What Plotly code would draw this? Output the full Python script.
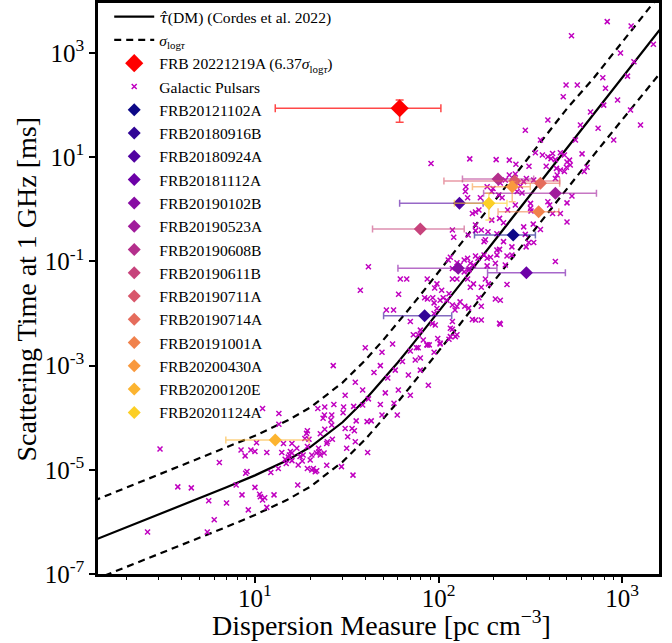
import plotly.graph_objects as go
from plotly.colors import sample_colorscale, unlabel_rgb

# ---------------- model curve ----------------
model_dm = [1, 2, 3, 5, 7, 10, 15, 20, 30, 40, 50, 60, 70, 80, 100, 120, 150,
            200, 250, 300, 400, 500, 700, 1000, 1300, 1600]
model_tau = [2.98e-7, 7.87e-7, 1.39e-6, 2.85e-6, 4.61e-6, 7.82e-6, 1.53e-5, 2.73e-5,
             8.18e-5, 2.23e-4, 5.39e-4, 1.15e-3, 2.24e-3, 4.01e-3, 1.08e-2, 2.43e-2,
             6.59e-2, 0.240, 0.655, 1.49, 5.42, 14.8, 67.3, 334, 1090, 2780]
model_tau_hi = [1.71e-6, 4.53e-6, 8.0e-6, 1.64e-5, 2.65e-5, 4.50e-5, 8.80e-5, 1.57e-4,
                4.71e-4, 1.28e-3, 3.10e-3, 6.62e-3, 1.29e-2, 2.31e-2, 6.21e-2, 0.140,
                0.379, 1.38, 3.77, 8.57, 31.2, 85.2, 330, 1600, 5000, 13000]
model_tau_lo = [5.18e-8, 1.37e-7, 2.42e-7, 4.95e-7, 8.01e-7, 1.36e-6, 2.66e-6, 4.74e-6,
                1.42e-5, 3.88e-5, 9.37e-5, 2.0e-4, 3.89e-4, 6.97e-4, 1.88e-3, 4.22e-3,
                1.15e-2, 4.17e-2, 0.114, 0.259, 0.942, 2.57, 11.0, 52.0, 165, 400]

# ---------------- Galactic pulsars ----------------
psr_dm = [
    # low DM
    11.0, 13.5, 13.5, 26.9, 24.0, 22.0, 30.4, 30.2, 34.5, 38.6,
    48.2, 57.2, 49.2, 59.6, 23.9, 26.2, 23.5, 25.9, 26.2, 24.0,
    31.0, 33.8, 34.8, 40.8, 43.0, 35.6, 32.0, 35.2, 26.4, 24.8,
    24.6, 22.7, 22.2, 22.4, 21.6, 22.7, 23.8, 20.4, 19.3, 19.1,
    18.7, 19.3, 19.7, 16.9, 15.6, 15.9, 14.0, 15.4, 15.2, 15.9,
    14.6, 14.8, 13.4, 12.2, 11.6, 10.0, 9.5, 8.84, 8.4, 10.2,
    14.3, 15.9, 17.6, 18.1, 17.2, 18.3, 20.0, 20.4, 21.3, 21.7,
    20.8, 19.3, 24.6, 29.6, 31.6, 41.1, 34.2, 17.1, 10.0, 10.6,
    10.7, 11.0, 11.3, 12.7, 8.5, 9.2, 11.6, 7.9, 9.05, 8.9,
    6.4, 5.6, 7.0, 3.04, 2.6, 5.5, 3.8, 4.5, 6.0,
    # intermediate DM
    44.5, 48.2, 52.9, 58.1, 63.6, 68.5, 74.7, 79.6, 51.3, 60.4,
    38.6, 35.2, 31.0, 41.5, 70.2, 88, 26.7, 49.2, 70.2, 75.8,
    86.5, 79.6, 94.6, 99, 102, 119, 126, 114, 217,
    # high DM
    91.0, 148, 206, 243, 264, 311, 337, 368, 394, 410,
    418, 433, 461, 485, 501, 517, 605, 522, 497, 386,
    439, 461, 485, 644, 622, 443, 433, 330, 301, 291,
    279, 268, 262, 243, 231, 217, 198, 184, 141, 140,
    213, 222, 195, 285, 394, 403, 418, 461, 501, 533,
    317, 317, 319, 262, 238, 166, 153, 159, 144, 169,
    226, 215, 195, 159, 171, 186, 208, 297, 328, 359,
    291, 501, 310, 330, 300, 251, 226, 180, 177, 159,
    145, 121, 119, 208, 215, 208, 192, 184, 177, 159,
    164, 236, 251, 231, 204, 144, 138, 149, 147, 155,
    184, 116, 113, 119, 131, 126, 433, 41.5, 37.5, 61.9,
    67.1, 86.8, 95.3, 104, 106, 114, 111, 102, 98, 93,
    84, 87, 94.6, 60.6, 98, 119, 126, 146, 138, 144,
    149, 155, 171, 180, 187, 166, 236, 204, 217, 215,
    171, 139, 146, 153, 159, 171, 119, 131, 123, 126,
    119, 116, 94.6, 92.5, 96, 79.6, 77.5, 72.9, 70.2, 56.9,
    52, 56.2, 82.6, 86.8, 89, 116, 123.5, 102, 77.5, 39.9,
    # very high DM
    830, 530, 1120, 980, 1160, 1480, 785, 812, 1070, 495,
    570, 478, 673, 794, 945, 593, 740, 900, 557, 1111,
    1260, 394, 359, 297,
]
psr_tau = [
    # low DM
    1.5e-4, 1.2e-4, 7.5e-5, 1.8e-4, 1.6e-4, 1.5e-4, 1.6e-4, 1.25e-4, 1.65e-4, 1.75e-4,
    1.8e-4, 1.9e-4, 1.13e-4, 1.13e-4, 1.13e-4, 1.13e-4, 9.8e-5, 9.0e-5, 7.25e-5, 6.0e-5,
    6.2e-5, 6.2e-5, 5.6e-5, 8.4e-5, 8.7e-5, 8.7e-5, 4.3e-5, 3.45e-5, 3.85e-5, 3.45e-5,
    3.2e-5, 4.9e-5, 2.6e-5, 2.25e-5, 2.1e-5, 1.92e-5, 2.1e-5, 1.92e-5, 5.6e-5, 5.0e-5,
    4.0e-5, 2.8e-5, 3.85e-5, 2.6e-5, 2.25e-5, 2.1e-5, 2.15e-5, 1.92e-5, 1.75e-5, 1.5e-5,
    1.6e-5, 1.32e-5, 1.06e-5, 8.9e-6, 2.15e-5, 2.25e-5, 2.4e-5, 1.85e-5, 2.4e-5, 3.3e-5,
    3.2e-5, 3.2e-5, 1.8e-5, 1.48e-5, 1.24e-5, 1.92e-5, 1.54e-5, 9.9e-6, 9.2e-6, 9.6e-6,
    1.06e-5, 1.06e-5, 1.22e-5, 1.15e-5, 2.6e-5, 2.15e-5, 7.9e-6, 5.1e-6, 4.6e-6, 3.4e-6,
    3.05e-6, 2.63e-6, 2.9e-6, 3.3e-6, 3.3e-6, 1.7e-6, 1.9e-6, 5.1e-6, 9.3e-6, 8.6e-6,
    1.38e-5, 2.55e-6, 2.3e-6, 2.5e-5, 6.4e-7, 6.4e-7, 4.7e-6, 4.5e-6, 1.1e-6,
    # intermediate DM
    7.4e-4, 1.0e-3, 5.8e-4, 8.2e-4, 1.2e-3, 6.6e-4, 1.28e-3, 8.2e-4, 3.0e-4, 3.4e-4,
    3.4e-4, 4.8e-4, 2.7e-4, 2.3e-4, 2.7e-4, 4.2e-4, 1.0e-3, 1.8e-3, 1.9e-3, 2.2e-3,
    2.5e-3, 1.4e-3, 1.8e-3, 3.3e-3, 2.7e-3, 5.0e-3, 3.9e-3, 3.2e-3, 6.2e-3,
    # high DM
    7.6, 9.3, 9.0, 8.8, 7.3, 6.7, 12.2, 11.0, 10.2, 9.4,
    11.8, 9.0, 12.2, 11.0, 8.1, 8.8, 11.6, 7.1, 6.4, 6.7,
    6.1, 5.7, 5.3, 6.4, 5.3, 4.55, 3.9, 3.65, 3.9, 3.4,
    2.8, 2.2, 4.75, 4.55, 3.65, 3.2, 2.5, 2.7, 2.7, 2.2,
    1.88, 1.66, 2.2, 2.05, 1.40, 1.21, 0.83, 0.83, 1.33, 1.8,
    1.30, 1.05, 0.93, 1.21, 0.97, 0.97, 0.83, 0.89, 1.66, 1.66,
    0.55, 0.67, 0.62, 0.50, 0.40, 0.37, 0.34, 0.33, 0.52, 0.41,
    0.46, 0.57, 0.23, 0.23, 0.19, 0.19, 0.24, 0.26, 0.24, 0.39,
    0.32, 0.29, 0.40, 0.166, 0.17, 0.133, 0.12, 0.115, 0.133, 0.127,
    0.115, 0.127, 0.133, 0.085, 0.092, 0.115, 0.106, 0.092, 0.073, 0.085,
    0.082, 0.12, 0.106, 0.073, 0.085, 0.094, 0.10, 0.079, 0.028, 0.046,
    0.046, 0.046, 0.031, 0.028, 0.020, 0.024, 0.018, 0.018, 0.0125, 0.020,
    0.020, 0.019, 0.016, 0.0235, 0.037, 0.046, 0.046, 0.068, 0.063, 0.046,
    0.032, 0.037, 0.032, 0.046, 0.037, 0.020, 0.036, 0.019, 0.018, 0.0065,
    0.0138, 0.0138, 0.0127, 0.0077, 0.0075, 0.0075, 0.0146, 0.0167, 0.0117, 0.0138,
    0.0070, 0.0052, 0.0100, 0.0064, 0.0060, 0.0048, 0.0039, 0.0039, 0.0070, 0.0117,
    0.0117, 0.0026, 0.0031, 0.0025, 0.0025, 0.0036, 0.0036, 0.0026, 0.0022, 0.0022,
    # very high DM
    4000, 2150, 3300, 1000, 680, 1470, 335, 210, 360, 243,
    243, 145, 74, 100, 125, 41.6, 36, 21.4, 21.4, 80.6,
    41.6, 51.8, 21.4, 33,
]

# ---------------- FRB sample ----------------
frb_names = ["FRB20121102A", "FRB20180916B", "FRB20180924A", "FRB20181112A",
             "FRB20190102B", "FRB20190523A", "FRB20190608B", "FRB20190611B",
             "FRB20190711A", "FRB20190714A", "FRB20191001A", "FRB20200430A",
             "FRB20200120E", "FRB20201124A"]
frb_dm = [255, 84, 130, 301, 128, 433, 211, 79.6, 260, 359, 351, 252, 12.9, 188]
frb_dm_lo = [157, 50.2, 61.4, 185, 60.1, 176, 135, 43.7, 107, 268, 211, 153, 6.94, 122]
frb_dm_hi = [337, 118, 175, 491, 208, 725, 330, 138, 457, 457, 452, 316, 19.7, 236]
frb_tau = [0.321, 0.00908, 1.30, 0.0607, 0.0738, 2.03, 3.82, 0.419, 3.49, 3.16, 0.90,
           2.72, 3.73e-5, 1.30]
frb_tau_lo = [None, None, None, None, None, None, None, None, None, None, None,
              1.40, None, 0.624]
frb_tau_hi = [None, None, None, None, None, None, None, None, None, None, None,
              3.4, None, 2.03]

new_dm, new_dm_lo, new_dm_hi = 61.4, 12.9, 103
new_tau, new_tau_lo, new_tau_hi = 87, 46.8, 125

x_title = "Dispersion Measure [pc cm<sup>−3</sup>]"
y_title = "Scattering Time at 1 GHz [ms]"

# ---------------- figure ----------------
FONT = "Liberation Serif"
fig = go.Figure()

fig.add_trace(go.Scatter(
    x=model_dm, y=model_tau, mode="lines",
    line=dict(color="black", width=2.2),
    name='<span style="font-family:DejaVu Serif;font-style:italic">τ̂</span>(DM) (Cordes et al. 2022)'))
fig.add_trace(go.Scatter(x=model_dm, y=model_tau_hi, mode="lines",
                         line=dict(color="black", width=2.2, dash="7px,5px"),
                         name="<i>σ</i><sub>log<i>τ</i></sub>"))
fig.add_trace(go.Scatter(x=model_dm, y=model_tau_lo, mode="lines",
                         line=dict(color="black", width=2.2, dash="7px,5px"),
                         showlegend=False))

fig.add_trace(go.Scatter(
    x=[new_dm], y=[new_tau], mode="markers",
    marker=dict(symbol="diamond", size=14, color="#ff0000"),
    error_x=dict(type="data", symmetric=False, array=[new_dm_hi - new_dm],
                 arrayminus=[new_dm - new_dm_lo], color="rgba(255,40,40,0.85)",
                 thickness=1.5, width=4),
    error_y=dict(type="data", symmetric=False, array=[new_tau_hi - new_tau],
                 arrayminus=[new_tau - new_tau_lo], color="rgba(255,40,40,0.85)",
                 thickness=1.5, width=4),
    name="FRB 20221219A (6.37<i>σ</i><sub>log<i>τ</i></sub>)"))

fig.add_trace(go.Scatter(x=psr_dm, y=psr_tau, mode="markers",
                         marker=dict(symbol="x-thin", size=5, color="#c000c0",
                                     line=dict(color="#c000c0", width=1.5)),
                         name="Galactic Pulsars"))

cols = sample_colorscale("Plasma", [i * 0.9 / 13 for i in range(14)])
for i, nm in enumerate(frb_names):
    r, g, b = unlabel_rgb(cols[i])
    c = "rgb(%d,%d,%d)" % (r, g, b)
    ce = "rgba(%d,%d,%d,0.6)" % (r, g, b)
    ey = dict(visible=False)
    if frb_tau_lo[i] is not None:
        ey = dict(type="data", symmetric=False, array=[frb_tau_hi[i] - frb_tau[i]],
                  arrayminus=[frb_tau[i] - frb_tau_lo[i]], color=ce,
                  thickness=1.5, width=3.5)
    fig.add_trace(go.Scatter(
        x=[frb_dm[i]], y=[frb_tau[i]], mode="markers",
        marker=dict(symbol="diamond", size=10, color=c),
        error_x=dict(type="data", symmetric=False, array=[frb_dm_hi[i] - frb_dm[i]],
                     arrayminus=[frb_dm[i] - frb_dm_lo[i]], color=ce,
                     thickness=1.5, width=3.5),
        error_y=ey, name=nm))

minor_x = [m * 10 ** k for k in range(0, 4) for m in range(2, 10)]

fig.update_layout(
    width=672, height=643,
    margin=dict(l=98, r=13, t=3, b=69, autoexpand=False),
    plot_bgcolor="white", paper_bgcolor="white",
    font=dict(family=FONT, color="black"),
    legend=dict(x=0.02, y=1.0, xanchor="left", yanchor="top", yref="container",
                bgcolor="rgba(0,0,0,0)", font=dict(family=FONT, size=15.6),
                tracegroupgap=0, itemwidth=40, maxheight=620),
    annotations=[
        dict(text=x_title, xref="paper", yref="paper", x=0.5045, y=-0.0875,
             xanchor="center", yanchor="middle", showarrow=False,
             font=dict(family=FONT, size=28)),
        dict(text=y_title, xref="paper", yref="paper", x=-0.1266, y=0.5,
             xanchor="center", yanchor="middle", showarrow=False, textangle=-90,
             font=dict(family=FONT, size=28)),
    ],
)
fig.update_xaxes(
    type="log", range=[0.145, 3.201], automargin=False,
    tickvals=[10, 100, 1000],
    ticktext=["10<sup>1</sup>", "10<sup>2</sup>", "10<sup>3</sup>"],
    ticks="outside", ticklen=6, tickwidth=1.5, tickcolor="black",
    ticklabelstandoff=-6,
    showline=True, linewidth=2.5, linecolor="black", mirror=True,
    showgrid=False, zeroline=False, tickfont=dict(family=FONT, size=25),
    minor=dict(ticks="outside", ticklen=3.5, tickwidth=1, tickcolor="black",
               tickvals=minor_x, showgrid=False),
)
fig.update_yaxes(
    type="log", range=[-7, 3.96], automargin=False,
    tickvals=[1e-7, 1e-5, 1e-3, 1e-1, 1e1, 1e3],
    ticktext=["10<sup>-7</sup>", "10<sup>-5</sup>", "10<sup>-3</sup>",
              "10<sup>-1</sup>", "10<sup>1</sup>", "10<sup>3</sup>"],
    ticks="outside", ticklen=6, tickwidth=1.5, tickcolor="black",
    showline=True, linewidth=2.5, linecolor="black", mirror=True,
    showgrid=False, zeroline=False, tickfont=dict(family=FONT, size=25),
)

fig.write_html("out.html", config={"displayModeBar": False},
               post_script="document.body.style.margin='0';"
                           "document.body.style.padding='0';"
                           "document.documentElement.style.overflow='hidden';")
